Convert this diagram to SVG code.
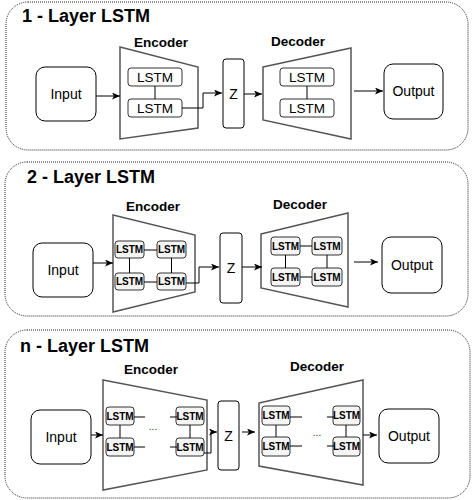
<svg xmlns="http://www.w3.org/2000/svg" width="473" height="500" viewBox="0 0 473 500">
<style>
.panel{fill:#fff;stroke:#222;stroke-width:1;stroke-dasharray:1 1}
.title{font-family:"Liberation Sans",Arial,sans-serif;font-weight:bold;font-size:18px;fill:#000}
.lbl{font-family:"Liberation Sans",Arial,sans-serif;font-weight:bold;font-size:13.5px;fill:#000;text-anchor:middle}
.box{fill:#fff;stroke:#000;stroke-width:1}
.txt{font-family:"Liberation Sans",Arial,sans-serif;font-size:14px;fill:#000;text-anchor:middle}
.trap{fill:#fff;stroke:#555;stroke-width:1.5}
.lstm1{fill:#fff;stroke:#333;stroke-width:1}
.lstm{fill:#f5f5f5;stroke:#333;stroke-width:1}
.lt1{font-family:"Liberation Sans",Arial,sans-serif;font-size:13.5px;fill:#000;text-anchor:middle}
.lt{font-family:"Liberation Sans",Arial,sans-serif;font-weight:bold;font-size:10px;fill:#000;text-anchor:middle}
.dots{font-family:"Liberation Sans",Arial,sans-serif;font-size:10px;fill:#333;text-anchor:middle}
.ln{fill:none;stroke:#000;stroke-width:1}
.arr{fill:none;stroke:#000;stroke-width:1;marker-end:url(#ah)}
</style>
<defs>
<marker id="ah" markerUnits="userSpaceOnUse" markerWidth="9" markerHeight="8" refX="8" refY="3.5" orient="auto">
<path d="M0,0 L8,3.5 L0,7 L2,3.5 Z" fill="#000"/>
</marker>
</defs>

<!-- Panel 1 -->
<g id="panel1">
<rect class="panel" x="6" y="2" width="462" height="148" rx="22"/>
<text class="title" x="22" y="22">1 - Layer LSTM</text>
</g>
<g id="input1"><rect class="box" x="36" y="67" width="60" height="54" rx="9"/><text class="txt" x="66" y="99">Input</text></g>
<g id="encoder1">
<polygon class="trap" points="120,47 198,67 198,128 120,139"/>
<text class="lbl" x="161" y="47">Encoder</text>
</g>
<g id="enc1-lstm1"><rect class="lstm1" x="128" y="68" width="54" height="18" rx="3"/><text class="lt1" x="155" y="82">LSTM</text></g>
<g id="enc1-lstm2"><rect class="lstm1" x="128" y="99" width="54" height="18" rx="3"/><text class="lt1" x="155" y="113">LSTM</text></g>
<g id="z1"><rect class="box" x="223" y="59" width="21" height="69" rx="3"/><text class="txt" x="233.5" y="99">Z</text></g>
<g id="decoder1">
<polygon class="trap" points="263,67 351,48 351,139 263,120"/>
<text class="lbl" x="298" y="46">Decoder</text>
</g>
<g id="dec1-lstm1"><rect class="lstm1" x="280" y="68" width="54" height="18" rx="3"/><text class="lt1" x="307" y="82">LSTM</text></g>
<g id="dec1-lstm2"><rect class="lstm1" x="280" y="99" width="54" height="18" rx="3"/><text class="lt1" x="307" y="113">LSTM</text></g>
<g id="output1"><rect class="box" x="384" y="64" width="59" height="55" rx="9"/><text class="txt" x="413.5" y="96">Output</text></g>

<!-- Panel 2 -->
<g id="panel2">
<rect class="panel" x="5" y="162" width="463" height="154" rx="22"/>
<text class="title" x="27" y="183">2 - Layer LSTM</text>
</g>
<g id="input2"><rect class="box" x="33" y="243" width="60" height="54" rx="9"/><text class="txt" x="63" y="275">Input</text></g>
<g id="encoder2">
<polygon class="trap" points="113,215 195,235 195,292 113,312"/>
<text class="lbl" x="153" y="211">Encoder</text>
</g>
<g id="enc2-lstm11"><rect class="lstm" x="115" y="241" width="29" height="17" rx="3"/><text class="lt" x="129.5" y="253">LSTM</text></g>
<g id="enc2-lstm12"><rect class="lstm" x="157" y="241" width="29" height="17" rx="3"/><text class="lt" x="171.5" y="253">LSTM</text></g>
<g id="enc2-lstm21"><rect class="lstm" x="115" y="273" width="29" height="17" rx="3"/><text class="lt" x="129.5" y="285">LSTM</text></g>
<g id="enc2-lstm22"><rect class="lstm" x="157" y="273" width="29" height="17" rx="3"/><text class="lt" x="171.5" y="285">LSTM</text></g>
<g id="z2"><rect class="box" x="220" y="233" width="22" height="70" rx="3"/><text class="txt" x="231" y="273">Z</text></g>
<g id="decoder2">
<polygon class="trap" points="261,234 348,213 348,307 261,288"/>
<text class="lbl" x="300" y="209">Decoder</text>
</g>
<g id="dec2-lstm11"><rect class="lstm" x="271" y="237" width="29" height="18" rx="3"/><text class="lt" x="285.5" y="249.5">LSTM</text></g>
<g id="dec2-lstm12"><rect class="lstm" x="312" y="237" width="30" height="18" rx="3"/><text class="lt" x="327" y="249.5">LSTM</text></g>
<g id="dec2-lstm21"><rect class="lstm" x="271" y="268" width="29" height="18" rx="3"/><text class="lt" x="285.5" y="280.5">LSTM</text></g>
<g id="dec2-lstm22"><rect class="lstm" x="312" y="268" width="30" height="18" rx="3"/><text class="lt" x="327" y="280.5">LSTM</text></g>
<g id="output2"><rect class="box" x="382" y="237" width="60" height="56" rx="9"/><text class="txt" x="412" y="270">Output</text></g>

<!-- Panel 3 -->
<g id="panel3">
<rect class="panel" x="5" y="330" width="465" height="168" rx="22"/>
<text class="title" x="20" y="352">n - Layer LSTM</text>
</g>
<g id="input3"><rect class="box" x="31" y="410" width="60" height="54" rx="9"/><text class="txt" x="61" y="442">Input</text></g>
<g id="encoder3">
<polygon class="trap" points="103,380 207,400 207,470 103,490"/>
<text class="lbl" x="151" y="374">Encoder</text>
<text class="dots" x="153" y="430">...</text>
</g>
<g id="enc3-lstm11"><rect class="lstm" x="106" y="407" width="28" height="18" rx="3"/><text class="lt" x="120" y="419.5">LSTM</text></g>
<g id="enc3-lstm12"><rect class="lstm" x="176" y="407" width="28" height="18" rx="3"/><text class="lt" x="190" y="419.5">LSTM</text></g>
<g id="enc3-lstm21"><rect class="lstm" x="106" y="438" width="28" height="18" rx="3"/><text class="lt" x="120" y="450.5">LSTM</text></g>
<g id="enc3-lstm22"><rect class="lstm" x="176" y="438" width="28" height="18" rx="3"/><text class="lt" x="190" y="450.5">LSTM</text></g>
<g id="z3"><rect class="box" x="218" y="401" width="21" height="69" rx="3"/><text class="txt" x="228.5" y="441">Z</text></g>
<g id="decoder3">
<polygon class="trap" points="259,403 363,380 363,485 259,466"/>
<text class="lbl" x="317" y="371">Decoder</text>
<text class="dots" x="317" y="436">...</text>
</g>
<g id="dec3-lstm11"><rect class="lstm" x="262" y="406" width="28" height="19" rx="3"/><text class="lt" x="276" y="419">LSTM</text></g>
<g id="dec3-lstm12"><rect class="lstm" x="333" y="406" width="27" height="19" rx="3"/><text class="lt" x="346.5" y="419">LSTM</text></g>
<g id="dec3-lstm21"><rect class="lstm" x="262" y="437" width="28" height="19" rx="3"/><text class="lt" x="276" y="450">LSTM</text></g>
<g id="dec3-lstm22"><rect class="lstm" x="333" y="437" width="27" height="19" rx="3"/><text class="lt" x="346.5" y="450">LSTM</text></g>
<g id="output3"><rect class="box" x="379" y="409" width="60" height="54" rx="9"/><text class="txt" x="409" y="441">Output</text></g>

<g id="connectors">
<!-- panel 1 -->
<path class="arr" d="M96,96 H120"/>
<path class="ln" d="M155,86 V99"/>
<path class="arr" d="M182,108 H203 V93 H222"/>
<path class="arr" d="M244,94 H262"/>
<path class="ln" d="M307,86 V99"/>
<path class="arr" d="M354,91 H383"/>
<!-- panel 2 -->
<path class="arr" d="M93,263 H113"/>
<path class="ln" d="M144,250 H157 M144,282 H157 M129.5,258 V273 M171.5,258 V273"/>
<path class="arr" d="M186,283 H199 V267 H219"/>
<path class="arr" d="M242,267 H262"/>
<path class="ln" d="M300,246 H312 M300,277 H312 M285.5,255 V268 M327,255 V268"/>
<path class="arr" d="M354,262 H378"/>
<!-- panel 3 -->
<path class="arr" d="M91,435 H103"/>
<path class="ln" d="M134,417 H145 M170,417 H177 M134,447 H145 M170,447 H177 M120,425 V438 M190,425 V438"/>
<path class="arr" d="M204,453 H211 V432 H217"/>
<path class="arr" d="M242,432 H255"/>
<path class="ln" d="M290,417 H302 M327,417 H334 M290,446 H302 M327,446 H334 M276,425 V437 M346,425 V437"/>
<path class="arr" d="M363,435 H377"/>
</g>
</svg>
